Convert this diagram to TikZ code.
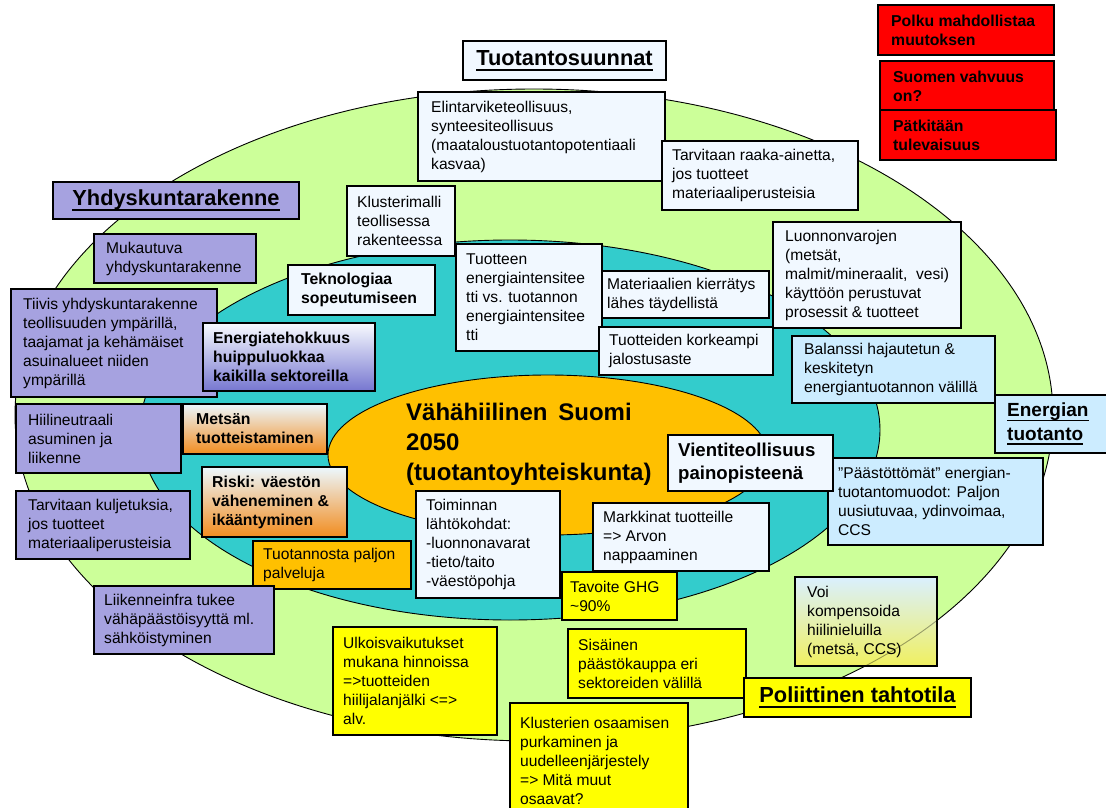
\documentclass[tikz,border=0pt]{standalone}
\usepackage{fontspec}
\setmainfont{Liberation Sans}

% underline with a fixed depth and weight
\newcommand\undl[1]{\setbox0\hbox{#1}\rlap{\rule[-0.23em]{\wd0}{0.07em}}\box0}

\definecolor{lgreen}{RGB}{204,255,153}
\definecolor{tealc}{RGB}{51,204,204}
\definecolor{gold}{RGB}{255,192,0}
\definecolor{lav}{RGB}{166,162,224}
\definecolor{pale}{RGB}{241,248,255}
\definecolor{sky}{RGB}{204,236,255}
\definecolor{yel}{RGB}{255,255,0}
\definecolor{redc}{RGB}{255,0,0}

\tikzset{
  ring/.style={draw=black, line width=0.9pt},
  panel/.style={draw=black, line width=1.1pt, inner sep=0pt, outer sep=0pt},
  boxtext/.style={align=left, inner sep=0pt, font=\fontsize{15.6}{19}\selectfont},
  boldsmall/.style={font=\fontsize{15.8}{19}\selectfont\bfseries},
  boldmid/.style={font=\fontsize{18.6}{23}\selectfont\bfseries},
  boldbig/.style={font=\fontsize{19}{23.5}\selectfont\bfseries},
  titletext/.style={font=\fontsize{21.8}{26}\selectfont\bfseries},
  fillwhite/.style={fill=pale},
  fillpurple/.style={fill=lav},
  fillsky/.style={fill=sky},
  fillyellow/.style={fill=yel},
  fillred/.style={fill=redc},
  fillgold/.style={fill=gold},
  shadeorange/.style={top color={rgb,255:red,236;green,248;blue,255},
                      middle color={rgb,255:red,247;green,214;blue,168},
                      bottom color={rgb,255:red,242;green,140;blue,30}},
  shadepurple/.style={top color={rgb,255:red,248;green,251;blue,255},
                      middle color={rgb,255:red,214;green,218;blue,245},
                      bottom color={rgb,255:red,118;green,118;blue,208}},
  shadeyellow/.style={top color={rgb,255:red,218;green,240;blue,255},
                      middle color={rgb,255:red,224;green,241;blue,236},
                      bottom color={rgb,255:red,240;green,240;blue,96}},
}

% framed box with left-aligned text:
% \tbox[text options]{name}{x}{y}{width}{height}{fill style}{text}
\newcommand\tbox[8][]{%
  \node[panel,#7,minimum width=#5pt,minimum height=#6pt,anchor=north west] (#2) at (#3,#4) {};
  \node[boxtext,anchor=west,#1] (#2-t) at ([xshift=10pt]#2.west) {#8};}

\begin{document}
\begin{tikzpicture}[x=1pt,y=-1pt]
\useasboundingbox (0,0) rectangle (1106,808);
\fill[white] (0,0) rectangle (1106,808);

% nested rings
\draw[ring, fill=lgreen] (534,415) ellipse [x radius=519pt, y radius=326pt];
\draw[ring, fill=tealc] (510,430) ellipse [x radius=370pt, y radius=190pt];
\draw[ring, fill=gold] (548,455) ellipse [x radius=220pt, y radius=80pt];

\node[anchor=west, align=left, inner sep=0pt, font=\fontsize{24}{30}\selectfont\bfseries]
  (core-t) at (406,444) {Vähähiilinen\hspace{0.45em}Suomi\\2050\\(tuotantoyhteiskunta)};

% red notes, top right
\tbox[boldsmall,xshift=3pt]{red1}{878}{5}{176}{50}{fillred}{Polku mahdollistaa\\muutoksen}
\tbox[boldsmall,xshift=3pt]{red2}{880}{61}{174}{50}{fillred}{Suomen vahvuus\\on?}
\tbox[boldsmall,xshift=3pt]{red3}{880}{110}{176}{50}{fillred}{Pätkitään\\tulevaisuus}

% production directions
\node[panel,fillwhite,titletext,anchor=north west,minimum width=203pt,minimum height=39pt]
  (tuot) at (463,41) {\undl{Tuotantosuunnat}};
\tbox[xshift=3pt]{elin}{418}{92}{247}{89}{fillwhite}{Elintarviketeollisuus,\\synteesiteollisuus\\(maataloustuotantopotentiaali\\kasvaa)}
\tbox{raaka}{662}{141}{196}{69}{fillwhite}{Tarvitaan raaka-ainetta,\\jos tuotteet\\materiaaliperusteisia}
\tbox{klmalli}{347}{186}{108}{70}{fillwhite}{Klusterimalli\\teollisessa\\rakenteessa}
\tbox{intens}{456}{244}{146}{107}{fillwhite}{Tuotteen\\energiaintensitee\\tti vs. tuotannon\\energiaintensitee\\tti}
\tbox[xshift=-5pt]{kierr}{602}{271}{167}{47}{fillwhite}{Materiaalien kierrätys\\lähes täydellistä}
\tbox{jalost}{599}{327}{174}{48}{fillwhite}{Tuotteiden korkeampi\\jalostusaste}
\tbox[xshift=2pt]{luonn}{773}{222}{188}{106}{fillwhite}{Luonnonvarojen\\(metsät,\\malmit/mineraalit,\ \ vesi)\\käyttöön perustuvat\\prosessit \& tuotteet}

% energy production
\tbox[xshift=2pt]{balanssi}{792}{336}{203}{67}{fillsky}{Balanssi hajautetun \&\\keskitetyn\\energiantuotannon välillä}
\tbox[boldbig,xshift=2pt]{energia}{995}{395}{130}{58}{fillsky}{\undl{Energian}\\\undl{tuotanto}}
\tbox{paast}{828}{458}{215}{87}{fillsky}{”Päästöttömät” energian-\\tuotantomuodot: Paljon\\uusiutuvaa, ydinvoimaa,\\CCS}
\tbox[boldmid]{vienti}{668}{435}{165}{56}{fillwhite}{Vientiteollisuus\\painopisteenä}
\tbox{markk}{593}{503}{176}{68}{fillwhite}{Markkinat tuotteille\\=> Arvon\\nappaaminen}
\tbox{toim}{416}{491}{144}{107}{fillwhite}{Toiminnan\\lähtökohdat:\\-luonnonavarat\\-tieto/taito\\-väestöpohja}

% political will
\tbox[xshift=-2pt]{tavoite}{562}{572}{115}{48}{fillyellow}{Tavoite GHG\\\textasciitilde 90\%}
\tbox{ulk}{333}{627}{164}{108}{fillyellow}{Ulkoisvaikutukset\\mukana hinnoissa\\=>tuotteiden\\hiilijalanjälki <=>\\alv.}
\tbox{sisainen}{568}{629}{178}{69}{fillyellow}{Sisäinen\\päästökauppa eri\\sektoreiden välillä}
\tbox{klust}{510}{703}{178}{115}{fillyellow}{Klusterien osaamisen\\purkaminen ja\\uudelleenjärjestely\\=> Mitä muut\\osaavat?}
\tbox[xshift=2pt]{voi}{795}{577}{142}{89}{shadeyellow}{Voi\\kompensoida\\hiilinieluilla\\(metsä, CCS)}
% outer ring outline showing faintly through the carbon-sink note
\begin{scope}
  \clip (voi.south west) rectangle (voi.north east);
  \draw[black, draw opacity=0.35, line width=0.9pt] (534,415) ellipse [x radius=519pt, y radius=326pt];
\end{scope}
\node[panel,fillyellow,titletext,anchor=north west,minimum width=227pt,minimum height=39pt]
  (polit) at (744,678) {\undl{Poliittinen tahtotila}};

% community structure
\node[panel,fillpurple,titletext,anchor=north west,minimum width=246pt,minimum height=37pt]
  (yhd) at (53,182) {\undl{Yhdyskuntarakenne}};
\tbox[xshift=2pt]{mukaut}{94}{234}{162}{49}{fillpurple}{Mukautuva\\yhdyskuntarakenne}
\tbox[xshift=2pt]{tiivis}{11}{289}{206}{108}{fillpurple}{Tiivis yhdyskuntarakenne\\teollisuuden ympärillä,\\taajamat ja kehämäiset\\asuinalueet niiden\\ympärillä}
\tbox[boldsmall,xshift=3pt]{tekno}{288}{265}{147}{50}{fillwhite}{Teknologiaa\\sopeutumiseen}
\tbox[boldsmall]{tehok}{203}{323}{172}{68}{shadepurple}{Energiatehokkuus\\huippuluokkaa\\kaikilla sektoreilla}
\tbox[xshift=2pt]{hiilin}{16}{404}{165}{69}{fillpurple}{Hiilineutraali\\asuminen ja\\liikenne}
\tbox[boldsmall,xshift=3pt]{metsa}{183}{404}{144}{50}{shadeorange}{Metsän\\tuotteistaminen}
\tbox[boldsmall]{riski}{202}{467}{145}{70}{shadeorange}{Riski: väestön\\väheneminen \&\\ikääntyminen}
\tbox[xshift=2pt]{kulj}{16}{491}{174}{68}{fillpurple}{Tarvitaan kuljetuksia,\\jos tuotteet\\materiaaliperusteisia}
\tbox{palvelu}{253}{541}{158}{48}{fillgold}{Tuotannosta paljon\\palveluja}
\tbox{liik}{94}{586}{180}{68}{fillpurple}{Liikenneinfra tukee\\vähäpäästöisyyttä ml.\\sähköistyminen}
\end{tikzpicture}
\end{document}
